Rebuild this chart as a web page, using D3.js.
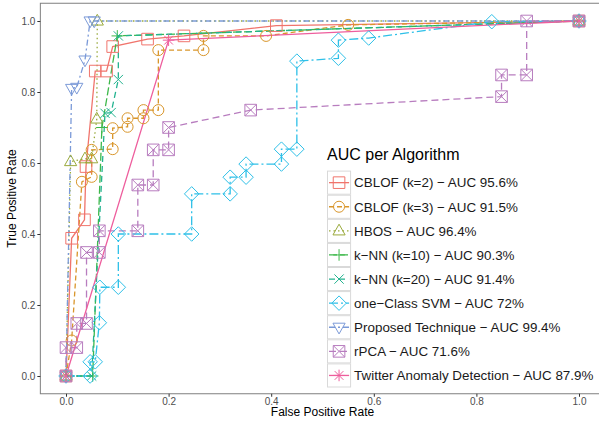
<!DOCTYPE html>
<html>
<head>
<meta charset="utf-8">
<script src="https://cdn.jsdelivr.net/npm/d3@7"></script>
<style>
  body { margin: 0; background: #fff; }
  svg { font-family: "Liberation Sans", Arial, sans-serif; }
</style>
</head>
<body>
<div class="canvas"></div>
<script>
// series labels (legend order)
const seriesNames = [
  "CBLOF (k=2) \u2212 AUC 95.6%",
  "CBLOF (k=3) \u2212 AUC 91.5%",
  "HBOS \u2212 AUC 96.4%",
  "k\u2212NN (k=10) \u2212 AUC 90.3%",
  "k\u2212NN (k=20) \u2212 AUC 91.4%",
  "one\u2212Class SVM \u2212 AUC 72%",
  "Proposed Technique \u2212 AUC 99.4%",
  "rPCA \u2212 AUC 71.6%",
  "Twitter Anomaly Detection \u2212 AUC 87.9%"
];

// ROC points [false positive rate, true positive rate]
const cblof2 = [[0, 0], [0.011, 0.388], [0.036, 0.44], [0.039, 0.59], [0.057, 0.859], [0.079, 0.859],
  [0.091, 0.928], [0.159, 0.949], [0.23, 0.958], [0.41, 0.987], [1, 1]];
const cblof3 = [[0, 0], [0.011, 0.10], [0.031, 0.547], [0.05, 0.561], [0.05, 0.637], [0.091, 0.639],
  [0.091, 0.698], [0.12, 0.702], [0.12, 0.726], [0.151, 0.726], [0.151, 0.749], [0.18, 0.749],
  [0.18, 0.918], [0.268, 0.918], [0.268, 0.958], [0.39, 0.958], [0.55, 0.989], [1, 1]];
const hbos = [[0, 0], [0.009, 0.604], [0.037, 0.612], [0.05, 0.612], [0.06, 0.724], [0.061, 1], [1, 1]];
const knn10 = [[0, 0], [0.052, 0], [0.07, 0.70], [0.10, 0.958], [1, 1]];
const knn20 = [[0, 0], [0.05, 0], [0.076, 0.74], [0.088, 0.742], [0.102, 0.835], [0.102, 0.958], [1, 1]];
const ocsvm = [[0, 0], [0.047, 0], [0.047, 0.04], [0.057, 0.04], [0.065, 0.15], [0.066, 0.25],
  [0.102, 0.25], [0.102, 0.40], [0.245, 0.40], [0.245, 0.513], [0.32, 0.513], [0.32, 0.56],
  [0.351, 0.56], [0.351, 0.597], [0.42, 0.597], [0.42, 0.639], [0.45, 0.639], [0.45, 0.887],
  [0.531, 0.895], [0.531, 0.946], [0.59, 0.952], [0.83, 0.998], [1, 1]];
const proposed = [[0, 0], [0.011, 0.81], [0.021, 0.813], [0.037, 0.89], [0.047, 1], [0.055, 1], [1, 1]];
const rpca = [[0, 0], [0, 0.08], [0.021, 0.08], [0.021, 0.148], [0.04, 0.148], [0.04, 0.348],
  [0.065, 0.348], [0.065, 0.409], [0.14, 0.409], [0.14, 0.538], [0.17, 0.538], [0.17, 0.637],
  [0.20, 0.637], [0.20, 0.70], [0.36, 0.749], [0.849, 0.787], [0.849, 0.848], [0.898, 0.848],
  [0.898, 1], [1, 1]];
const twitter = [[0, 0], [0.20, 0.946], [1, 1]];

const seriesData = [cblof2, cblof3, hbos, knn10, knn20, ocsvm, proposed, rpca, twitter];

const xTicks = [0, 0.2, 0.4, 0.6, 0.8, 1.0];
const yTicks = [0, 0.2, 0.4, 0.6, 0.8, 1.0];

// styling per series
const colors = ["#F0746C", "#D9962B", "#9AAA3C", "#3DB84A", "#22B38F", "#2EC0E8", "#7B9AD8", "#B87DBF", "#EE5E9D"];
const dashes = [null, "5,3", "1.5,3", "8,3", "6,4", "9,3,2,3", "6,3,2,3", "7,4", null];
const shapes = ["square", "circle", "triangle", "plus", "cross", "diamond", "triangleDown", "squareCross", "asterisk"];

// margins and dimensions
const w = 599;
const h = 428;
const panel = { left: 40.35, top: 3.25, right: 604.65, bottom: 393.75 };

const svg = d3.select(".canvas").append("svg").attr("width", w).attr("height", h);

const x = d3.scaleLinear().domain([-0.05, 1.05]).range([panel.left, panel.right]);
const y = d3.scaleLinear().domain([-0.05, 1.05]).range([panel.bottom, panel.top]);

// marker path for a given shape
function shapePath(name, s) {
  switch (name) {
    case "square": return `M${-s},${-s}h${2 * s}v${2 * s}h${-2 * s}Z`;
    case "circle": {
      const r = s * 0.95;
      return `M${-r},0a${r},${r} 0 1,0 ${2 * r},0a${r},${r} 0 1,0 ${-2 * r},0Z`;
    }
    case "triangle": return `M0,${-s * 1.15}L${s * 1.05},${s * 0.7}L${-s * 1.05},${s * 0.7}Z`;
    case "triangleDown": return `M0,${s * 1.15}L${s * 1.05},${-s * 0.7}L${-s * 1.05},${-s * 0.7}Z`;
    case "plus": return `M${-s},0H${s}M0,${-s}V${s}`;
    case "cross": {
      const c = s * 0.8;
      return `M${-c},${-c}L${c},${c}M${-c},${c}L${c},${-c}`;
    }
    case "diamond": {
      const d = s * 1.25;
      return `M0,${-d}L${d},0L0,${d}L${-d},0Z`;
    }
    case "squareCross": return `M${-s},${-s}h${2 * s}v${2 * s}h${-2 * s}ZM${-s},${-s}L${s},${s}M${-s},${s}L${s},${-s}`;
    case "asterisk": {
      const c = s * 0.75;
      return `M${-s},0H${s}M0,${-s}V${s}M${-c},${-c}L${c},${c}M${-c},${c}L${c},${-c}`;
    }
  }
}

// panel border
svg.append("rect")
  .attr("x", panel.left).attr("y", panel.top)
  .attr("width", panel.right - panel.left).attr("height", panel.bottom - panel.top)
  .attr("fill", "#fff").attr("stroke", "#7f7f7f").attr("stroke-width", 1);

// axes
const xAxis = svg.append("g")
  .attr("transform", `translate(0, ${panel.bottom})`)
  .call(d3.axisBottom(x).tickValues(xTicks).tickFormat(d3.format(".1f")).tickSize(3).tickPadding(1));
const yAxis = svg.append("g")
  .attr("transform", `translate(${panel.left}, 0)`)
  .call(d3.axisLeft(y).tickValues(yTicks).tickFormat(d3.format(".1f")).tickSize(3).tickPadding(2));
[xAxis, yAxis].forEach((a) => {
  a.select(".domain").remove();
  a.selectAll(".tick line").attr("stroke", "#333");
  a.selectAll(".tick text").attr("fill", "#4d4d4d").style("font-size", "10px")
    .style("font-family", "'Liberation Sans', Arial, sans-serif");
});

// axis titles
svg.append("text")
  .attr("x", (panel.left + panel.right) / 2).attr("y", 416)
  .attr("text-anchor", "middle").style("font-size", "12px").text("False Positive Rate");
svg.append("text")
  .attr("transform", `translate(16, ${(panel.top + panel.bottom) / 2}) rotate(-90)`)
  .attr("text-anchor", "middle").style("font-size", "12px").text("True Positive Rate");

const line = d3.line().x((d) => x(d[0])).y((d) => y(d[1]));

// lines first, then points (like stacked layers)
const plot = svg.append("g");
seriesData.forEach((pts, i) => {
  plot.append("path")
    .datum(pts)
    .attr("d", line)
    .attr("fill", "none")
    .attr("stroke", colors[i])
    .attr("stroke-width", 1.3)
    .attr("stroke-dasharray", dashes[i]);
});
seriesData.forEach((pts, i) => {
  plot.append("g")
    .selectAll("path")
    .data(pts)
    .enter()
    .append("path")
    .attr("transform", (d) => `translate(${x(d[0])}, ${y(d[1])})`)
    .attr("d", shapePath(shapes[i], 5.8))
    .attr("fill", "none")
    .attr("stroke", colors[i])
    .attr("stroke-width", 1);
});

// legend
const legend = svg.append("g").attr("transform", "translate(322, 140)");
legend.append("rect")
  .attr("x", 0).attr("y", 0).attr("width", 290).attr("height", 252).attr("fill", "#fff");
legend.append("text")
  .attr("x", 5).attr("y", 20)
  .style("font-size", "16px").text("AUC per Algorithm");

const keyH = 24.1;
const keyTop = 30.6;
const items = legend.selectAll("g.item")
  .data(seriesNames)
  .enter()
  .append("g")
  .attr("class", "item")
  .attr("transform", (d, i) => `translate(5, ${keyTop + i * keyH})`);
items.append("rect")
  .attr("x", 0.5).attr("y", 0.5).attr("width", keyH - 1).attr("height", keyH - 1)
  .attr("fill", "#fff").attr("stroke", "#d9d9d9").attr("stroke-width", 1);
items.append("line")
  .attr("x1", 2).attr("x2", keyH - 2).attr("y1", keyH / 2).attr("y2", keyH / 2)
  .attr("stroke", (d, i) => colors[i]).attr("stroke-width", 1.3)
  .attr("stroke-dasharray", (d, i) => dashes[i]);
items.append("path")
  .attr("transform", `translate(${keyH / 2}, ${keyH / 2})`)
  .attr("d", (d, i) => shapePath(shapes[i], 5.8))
  .attr("fill", "none").attr("stroke", (d, i) => colors[i]).attr("stroke-width", 1);
items.append("text")
  .attr("x", keyH + 3).attr("y", keyH / 2).attr("dy", "0.36em")
  .style("font-size", "13.4px").attr("fill", "#1a1a1a").text((d) => d);
</script>
</body>
</html>
